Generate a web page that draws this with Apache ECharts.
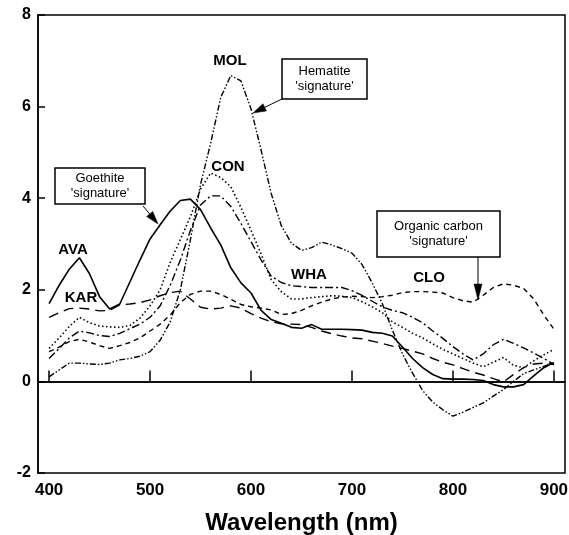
<!DOCTYPE html>
<html>
<head>
<meta charset="utf-8">
<script src="https://cdn.jsdelivr.net/npm/echarts@6/dist/echarts.min.js"></script>
<style>
html,body{margin:0;padding:0;background:#fff;}
#chart{width:569px;height:535px;}
</style>
</head>
<body>
<div id="chart"></div>
<script>
var wavelengths = [400,410,420,430,440,450,460,470,480,490,500,510,520,530,540,550,560,570,580,590,600,610,620,630,640,650,660,670,680,690,700,710,720,730,740,750,760,770,780,790,800,810,820,830,840,850,860,870,880,890,900];
var xTicks = [400,500,600,700,800,900];

var AVA = [1.70,2.10,2.45,2.70,2.35,1.85,1.58,1.69,2.17,2.65,3.11,3.42,3.72,3.95,3.98,3.75,3.35,2.98,2.48,2.15,1.93,1.55,1.35,1.27,1.18,1.16,1.24,1.14,1.14,1.14,1.13,1.12,1.07,1.05,0.99,0.75,0.50,0.30,0.15,0.06,0.05,0.05,0.04,0.02,-0.07,-0.12,-0.12,-0.07,0.12,0.30,0.41];
var KAR = [1.40,1.50,1.59,1.60,1.58,1.54,1.55,1.67,1.69,1.72,1.78,1.87,1.94,1.97,1.80,1.62,1.58,1.60,1.65,1.60,1.48,1.38,1.30,1.26,1.25,1.24,1.18,1.10,1.04,0.99,0.95,0.93,0.88,0.83,0.77,0.72,0.66,0.60,0.50,0.42,0.36,0.28,0.20,0.14,0.06,-0.01,0.15,0.30,0.38,0.40,0.37];
var CON = [0.72,0.95,1.20,1.40,1.28,1.21,1.19,1.18,1.22,1.38,1.65,2.00,2.60,3.10,3.60,4.20,4.55,4.45,4.25,3.80,3.30,2.78,2.22,1.96,1.80,1.80,1.83,1.85,1.87,1.86,1.83,1.74,1.63,1.50,1.30,1.18,1.05,0.95,0.82,0.70,0.60,0.50,0.40,0.32,0.42,0.52,0.35,0.30,0.45,0.58,0.70];
var WHA = [0.50,0.72,0.95,1.10,1.06,1.00,0.98,1.05,1.15,1.25,1.40,1.65,2.10,2.65,3.30,3.85,4.05,4.05,3.82,3.45,3.05,2.65,2.30,2.16,2.09,2.07,2.05,2.05,2.05,2.05,1.98,1.88,1.75,1.63,1.55,1.50,1.40,1.28,1.10,0.94,0.76,0.60,0.47,0.60,0.80,0.92,0.83,0.73,0.62,0.50,0.37];
var MOL = [0.10,0.25,0.40,0.40,0.38,0.37,0.40,0.47,0.50,0.55,0.65,0.90,1.30,2.00,3.10,4.30,5.20,6.20,6.68,6.56,5.95,5.05,4.10,3.40,3.02,2.86,2.92,3.04,2.98,2.90,2.80,2.55,2.15,1.70,1.12,0.60,0.18,-0.20,-0.45,-0.62,-0.76,-0.67,-0.57,-0.47,-0.32,-0.18,0.00,0.17,0.25,0.33,0.41];
var CLO = [0.65,0.75,0.87,0.92,0.86,0.78,0.72,0.78,0.85,0.95,1.10,1.25,1.45,1.72,1.90,1.97,1.97,1.90,1.79,1.68,1.63,1.60,1.56,1.46,1.48,1.55,1.65,1.73,1.80,1.84,1.86,1.85,1.83,1.85,1.88,1.94,1.96,1.96,1.95,1.93,1.83,1.76,1.73,1.88,2.05,2.13,2.10,2.03,1.80,1.45,1.14];

var seriesNames = ['AVA','KAR','CON','WHA','MOL','CLO'];
var seriesValues = [AVA,KAR,CON,WHA,MOL,CLO];
var dashes = ['solid',[10,6],[1.5,2.5],[8,3,2,3],[6,2,1.5,2,1.5,2],[5,4]];
var widths = [1.6,1.4,1.6,1.4,1.4,1.4];

var FONT = 'Liberation Sans, Arial, Helvetica, sans-serif';

function pairs(vals){
  return wavelengths.map(function(w,i){return [w, vals[i]];});
}

var series = seriesNames.map(function(n,i){
  var s = {
    name:n, type:'line', data:pairs(seriesValues[i]), symbol:'none', smooth:false,
    lineStyle:{color:'#000', width:widths[i], type:dashes[i]}, z:3, silent:true
  };
  if(i===0){
    s.markLine = {silent:true, symbol:'none', label:{show:false},
      lineStyle:{color:'#000', width:1.5, type:'solid'},
      data:[{yAxis:0}]};
  }
  return s;
});

var labelTexts = [
  {t:'MOL', x:230, y:61},
  {t:'CON', x:228, y:167},
  {t:'AVA', x:73, y:250},
  {t:'KAR', x:81, y:298},
  {t:'WHA', x:309, y:275},
  {t:'CLO', x:429, y:278}
];

var graphics = [];
labelTexts.forEach(function(l){
  graphics.push({type:'text', x:l.x, y:l.y, z:10,
    style:{text:l.t, fill:'#000', font:'bold 15px '+FONT, textAlign:'center', textVerticalAlign:'middle'}});
});

function box(x1,y1,x2,y2,lines){
  graphics.push({type:'rect', z:10, shape:{x:x1,y:y1,width:x2-x1,height:y2-y1},
    style:{fill:'#fff', stroke:'#000', lineWidth:1.5}});
  graphics.push({type:'text', z:11, x:(x1+x2)/2, y:(y1+y2)/2,
    style:{text:lines, fill:'#000', font:'13px '+FONT, textAlign:'center', textVerticalAlign:'middle', lineHeight:15}});
}
function arrow(x1,y1,x2,y2,len,half){
  var dx=x2-x1, dy=y2-y1, d=Math.sqrt(dx*dx+dy*dy); dx/=d; dy/=d;
  var bx=x2-dx*len, by=y2-dy*len;
  graphics.push({type:'line', z:10, shape:{x1:x1,y1:y1,x2:bx,y2:by}, style:{stroke:'#000', lineWidth:1}});
  graphics.push({type:'polygon', z:10, shape:{points:[[x2,y2],[bx-dy*half,by+dx*half],[bx+dy*half,by-dx*half]]},
    style:{fill:'#000', stroke:'#000', lineWidth:0.5}});
}
box(55,168,145,204,"Goethite\n'signature'");
arrow(143,206,158,224,13,4);
box(282,59,367,99,"Hematite\n'signature'");
arrow(282,99,253,113,13,4);
box(377,211,500,257,"Organic carbon\n'signature'");
arrow(478,257,478,300,16,4);

var chart = echarts.init(document.getElementById('chart'), null, {renderer:'canvas'});
chart.setOption({
  animation:false,
  backgroundColor:'#fff',
  grid:{left:38, right:4, top:15, bottom:62, outerBoundsMode:'none', containLabel:false,
    show:true, borderColor:'#000', borderWidth:1.5, backgroundColor:'transparent'},
  xAxis:{type:'value', min:389, max:911,
    axisLine:{show:true, lineStyle:{color:'#000', width:1.5}},
    axisTick:{show:true, inside:true, length:11, customValues:xTicks, lineStyle:{color:'#000', width:1.5}},
    axisLabel:{show:true, customValues:xTicks, color:'#000', fontFamily:FONT, fontWeight:'bold', fontSize:17, margin:9},
    splitLine:{show:false},
    name:'Wavelength (nm)', nameLocation:'middle', nameGap:38,
    nameTextStyle:{color:'#000', fontFamily:FONT, fontWeight:'bold', fontSize:24}
  },
  yAxis:{type:'value', min:-2, max:8, interval:2,
    axisLine:{show:true, lineStyle:{color:'#000', width:1.5}},
    axisTick:{show:true, inside:true, length:7, lineStyle:{color:'#000', width:1.5}},
    axisLabel:{color:'#000', fontFamily:FONT, fontWeight:'bold', fontSize:16, margin:7},
    splitLine:{show:false}
  },
  series:series,
  graphic:graphics
});
</script>
</body>
</html>
